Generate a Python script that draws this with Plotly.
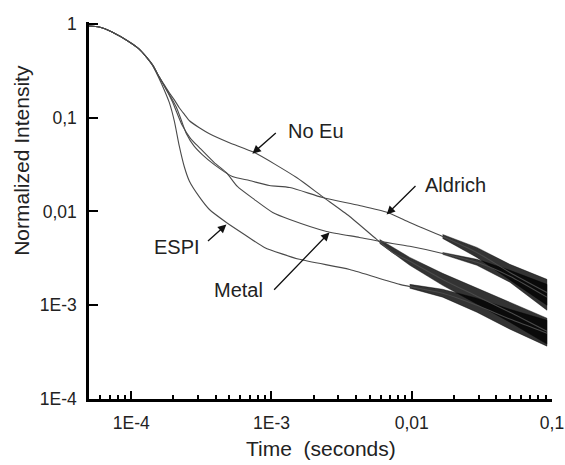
import numpy as np
import plotly.graph_objects as go

# ---- data (time in seconds, normalized intensity) ----
noeu_t = [5.0e-5, 5.9e-5, 7.3e-5, 9.7e-5, 1.14e-4, 1.28e-4, 1.43e-4, 1.58e-4, 1.72e-4, 1.87e-4,
          2.03e-4, 2.20e-4, 2.40e-4, 2.60e-4, 3.06e-4, 3.61e-4, 5.01e-4, 7.56e-4, 1.51e-3,
          2.31e-3, 3.61e-3, 5.62e-3, 7.31e-3, 9.68e-3, 1.66e-2, 2.91e-2, 5.01e-2, 9.2e-2]
noeu_i = [0.953, 0.929, 0.822, 0.643, 0.540, 0.446, 0.360, 0.273, 0.224, 0.184,
          0.155, 0.128, 0.108, 0.0929, 0.0783, 0.0676, 0.0542, 0.0425, 0.0230,
          0.0144, 0.00885, 0.00504, 0.00366, 0.00294, 0.00188, 0.00125, 0.000843, 0.000529]

aldrich_t = [5.0e-5, 5.9e-5, 7.3e-5, 9.7e-5, 1.14e-4, 1.28e-4, 1.43e-4, 1.58e-4, 1.72e-4, 1.92e-4,
             2.12e-4, 2.30e-4, 2.47e-4, 2.80e-4, 3.21e-4, 3.91e-4, 5.26e-4, 6.97e-4, 9.66e-4,
             1.35e-3, 2.31e-3, 4.24e-3, 6.72e-3, 9.68e-3, 1.66e-2, 2.91e-2, 5.01e-2, 9.2e-2]
aldrich_i = [0.953, 0.929, 0.822, 0.643, 0.540, 0.446, 0.360, 0.273, 0.218, 0.165,
             0.125, 0.090, 0.0680, 0.0500, 0.0404, 0.0316, 0.0236, 0.0214, 0.0189,
             0.0180, 0.0141, 0.0116, 0.00976, 0.00764, 0.00542, 0.00366, 0.00224, 0.00137]

metal_t = [5.0e-5, 5.9e-5, 7.3e-5, 9.7e-5, 1.14e-4, 1.28e-4, 1.43e-4, 1.58e-4, 1.72e-4, 1.96e-4,
           2.31e-4, 2.65e-4, 3.06e-4, 3.91e-4, 4.77e-4, 5.71e-4, 7.56e-4, 1.02e-3, 1.35e-3,
           2.47e-3, 4.24e-3, 5.91e-3, 9.68e-3, 1.66e-2, 2.91e-2, 5.01e-2, 9.2e-2]
metal_i = [0.953, 0.929, 0.822, 0.643, 0.540, 0.446, 0.360, 0.273, 0.220, 0.150,
           0.0830, 0.0600, 0.0480, 0.0332, 0.0260, 0.0185, 0.0134, 0.00976, 0.00822,
           0.00613, 0.00529, 0.00480, 0.00425, 0.00357, 0.00287, 0.00204, 0.00122]

espi_t = [5.0e-5, 5.9e-5, 7.3e-5, 9.7e-5, 1.14e-4, 1.28e-4, 1.43e-4, 1.58e-4, 1.72e-4, 1.87e-4,
          2.03e-4, 2.20e-4, 2.39e-4, 2.60e-4, 3.06e-4, 3.61e-4, 4.77e-4, 6.41e-4, 8.91e-4,
          1.58e-3, 3.61e-3, 8.21e-3, 1.66e-2, 2.91e-2, 5.01e-2, 9.2e-2]
espi_i = [0.953, 0.929, 0.822, 0.643, 0.540, 0.446, 0.355, 0.262, 0.198, 0.145,
          0.0920, 0.0500, 0.0300, 0.0210, 0.0143, 0.0105, 0.00764, 0.00569, 0.00414,
          0.00309, 0.00241, 0.00167, 0.00134, 0.00100, 0.000713, 0.000504]

# noisy tails: envelope (low / high)
noeu_band_t = [5.91e-3, 9.68e-3, 1.66e-2, 2.91e-2, 5.01e-2, 9.2e-2]
noeu_band_hi = [0.00504, 0.00324, 0.00219, 0.00152, 0.00108, 0.000728]
noeu_band_lo = [0.00457, 0.00267, 0.00163, 0.00103, 0.000659, 0.000385]

espi_band_t = [9.68e-3, 1.66e-2, 2.91e-2, 5.01e-2, 9.2e-2]
espi_band_hi = [0.00167, 0.00148, 0.00119, 0.000906, 0.000692]
espi_band_lo = [0.00152, 0.00122, 0.000843, 0.000556, 0.000366]

aldrich_band_t = [1.66e-2, 2.91e-2, 5.01e-2, 9.2e-2]
aldrich_band_hi = [0.00569, 0.00414, 0.00273, 0.00189]
aldrich_band_lo = [0.00516, 0.00324, 0.00185, 0.00100]

metal_band_t = [1.66e-2, 2.91e-2, 5.01e-2, 9.2e-2]
metal_band_hi = [0.00366, 0.00309, 0.00236, 0.00167]
metal_band_lo = [0.00349, 0.00267, 0.00176, 0.000885]

# tick labels
x_tickvals = [1e-4, 1e-3, 1e-2, 1e-1]
x_ticktext = ["1E-4", "1E-3", "0,01", "0,1"]
y_tickvals = [1e-4, 1e-3, 1e-2, 1e-1, 1]
y_ticktext = ["1E-4", "1E-3", "0,01", "0,1", "1"]

# labels: (text, text position t, I, arrow tail t, I, arrow head t, I)
labels = [
    ("No Eu",   2.06e-3, 0.0728, 1.10e-3, 0.0710, 7.31e-4, 0.0414),
    ("Aldrich", 2.06e-2, 0.0194, 1.09e-2, 0.0194, 6.62e-3, 0.00929),
    ("Metal",   5.81e-4, 0.00145, 1.02e-3, 0.00141, 2.59e-3, 0.00598),
    ("ESPI",    2.12e-4, 0.00422, 3.44e-4, 0.00468, 4.77e-4, 0.00728),
]

FONT = "Arial, Liberation Sans, sans-serif"
LINE = "#4a4a4a"

fig = go.Figure()

for bt, hi, lo in [(noeu_band_t, noeu_band_hi, noeu_band_lo),
                   (espi_band_t, espi_band_hi, espi_band_lo),
                   (aldrich_band_t, aldrich_band_hi, aldrich_band_lo),
                   (metal_band_t, metal_band_hi, metal_band_lo)]:
    fig.add_trace(go.Scatter(
        x=list(bt) + list(bt)[::-1], y=list(hi) + list(lo)[::-1],
        mode="lines", fill="toself", fillcolor="rgba(0,0,0,0.8)",
        line=dict(color="rgba(0,0,0,0.8)", width=0.5), showlegend=False, hoverinfo="skip"))

for name, t, i in [("No Eu", noeu_t, noeu_i), ("Aldrich", aldrich_t, aldrich_i),
                   ("Metal", metal_t, metal_i), ("ESPI", espi_t, espi_i)]:
    fig.add_trace(go.Scatter(x=t, y=i, mode="lines", name=name,
                             line=dict(color=LINE, width=1.1, shape="spline", smoothing=0.6),
                             showlegend=False))

minor_x = [k * 10.0 ** e for e in (-5, -4, -3, -2) for k in range(2, 10)
           if 5e-5 <= k * 10.0 ** e <= 0.1]

fig.update_xaxes(type="log", range=[np.log10(5e-5), -1], automargin=False,
                 tickvals=x_tickvals, ticktext=x_ticktext,
                 ticks="inside", ticklen=8, tickwidth=2, tickcolor="black",
                 showline=True, linewidth=2.5, linecolor="black",
                 showgrid=False, zeroline=False, mirror=False,
                 ticklabelstandoff=6, ticklabeloverflow="allow",
                 tickfont=dict(family=FONT, size=17.5, color="#222"),
                 minor=dict(tickvals=minor_x, ticks="inside", ticklen=4,
                            tickwidth=1.5, tickcolor="black", showgrid=False))
fig.update_yaxes(type="log", range=[-4, np.log10(1.05)], automargin=False,
                 tickvals=y_tickvals, ticktext=y_ticktext,
                 ticks="inside", ticklen=9, tickwidth=2, tickcolor="black",
                 showline=True, linewidth=2.5, linecolor="black",
                 showgrid=False, zeroline=False, mirror=False,
                 ticklabelstandoff=6, ticklabeloverflow="allow",
                 tickfont=dict(family=FONT, size=17.5, color="#222"))

for text, tx, ty, ax, ay, hx, hy in labels:
    fig.add_annotation(x=np.log10(tx), y=np.log10(ty), xref="x", yref="y",
                       text=text, showarrow=False,
                       font=dict(family=FONT, size=20, color="#222"))
    fig.add_annotation(x=np.log10(hx), y=np.log10(hy), ax=np.log10(ax), ay=np.log10(ay),
                       xref="x", yref="y", axref="x", ayref="y", text="",
                       showarrow=True, arrowhead=2, arrowsize=1.3, arrowwidth=1.3,
                       arrowcolor="#111", standoff=0, startstandoff=0)

fig.add_annotation(text="Time  (seconds)", xref="paper", yref="paper", x=0.5, y=-0.13,
                   showarrow=False, yanchor="middle",
                   font=dict(family=FONT, size=21, color="#222"))
fig.add_annotation(text="Normalized Intensity", xref="paper", yref="paper", x=-0.145, y=0.634,
                   showarrow=False, textangle=-90, xanchor="center", yanchor="middle",
                   font=dict(family=FONT, size=21, color="#222"))

fig.update_layout(width=565, height=465, margin=dict(l=89, r=13, t=22, b=66),
                  plot_bgcolor="white", paper_bgcolor="white", showlegend=False)

# remove the browser's default 8px page margin so the figure fills the window exactly
fig.write_html("out.html", config={"displayModeBar": False},
               post_script="document.body.style.margin='0';document.body.style.overflow='hidden';")
